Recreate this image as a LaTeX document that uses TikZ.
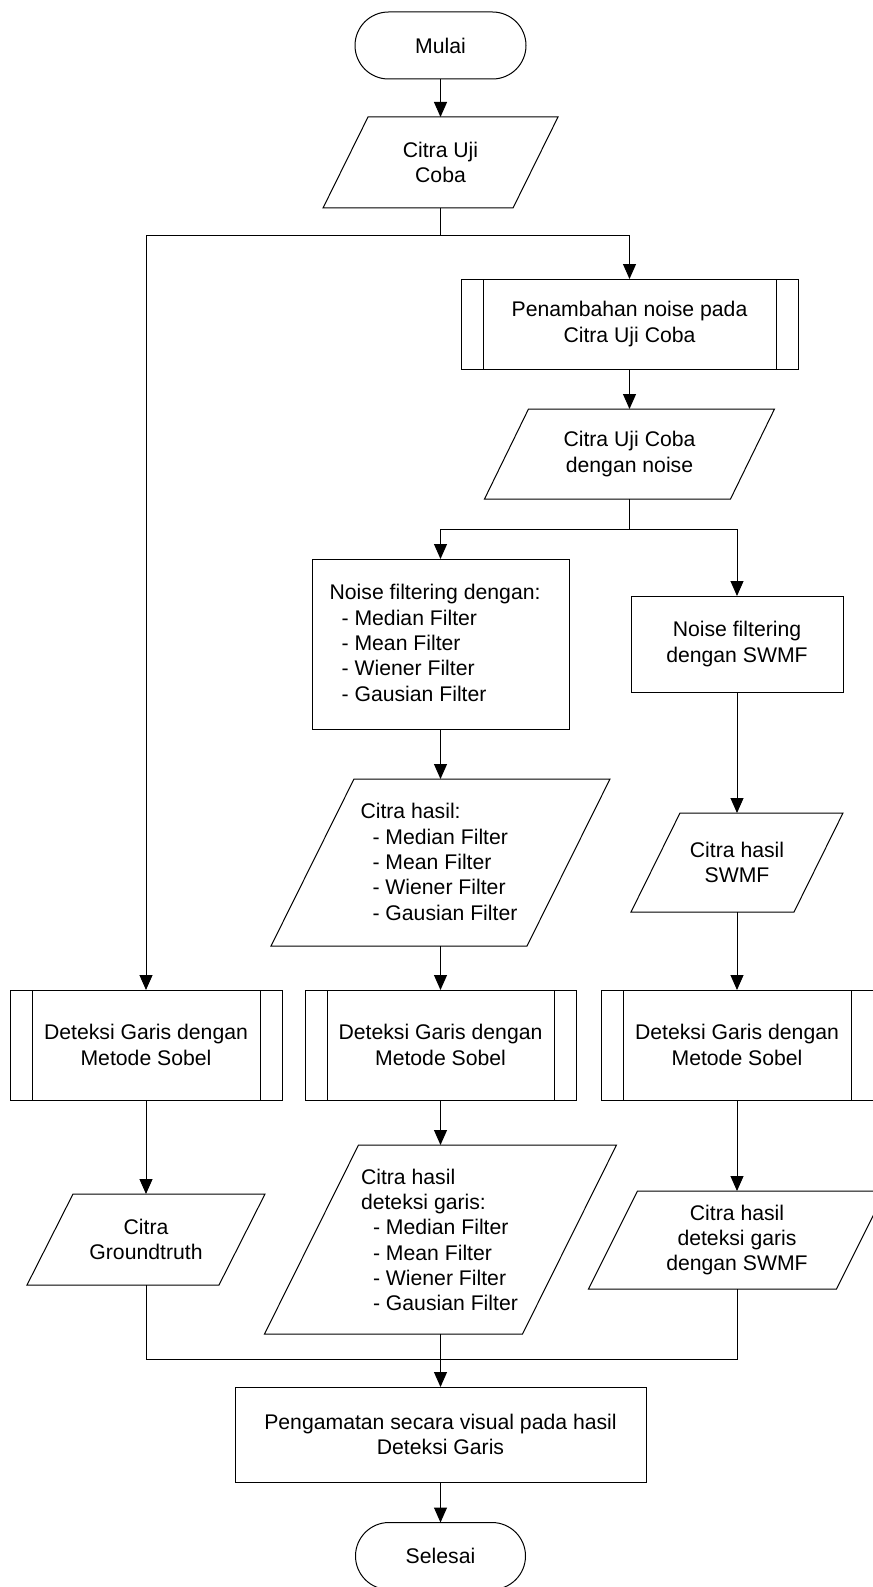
\documentclass[tikz,border=0pt]{standalone}
\usepackage{fontspec}
\setmainfont{Liberation Sans}
\usetikzlibrary{arrows.meta,shapes.misc}
\tikzset{
  base/.style={draw=none,inner sep=0pt,outer sep=0pt,align=center,
    font=\fontsize{15.9}{19}\selectfont},
  boxw/.style 2 args={base,draw,line width=0.75pt,rectangle,minimum width=#1*0.75pt,minimum height=#2*0.75pt},
  parw/.style 2 args={base,rectangle,minimum width=#1*0.75pt,minimum height=#2*0.75pt},
  term/.style 2 args={base,draw,line width=0.75pt,rounded rectangle,minimum width=#1*0.75pt,minimum height=#2*0.75pt},
  listtext/.style={inner sep=0pt,outer sep=0pt,align=left,anchor=west,
    font=\fontsize{15.9}{19}\selectfont},
  ln/.style={line width=0.75pt},
  arr/.style={line width=0.75pt,-{Triangle[length=11.25pt,width=9.75pt]}}
}
\newcommand{\paraout}[2]{%
  \draw[ln] ([xshift=#2*0.75pt]#1.north west) -- (#1.north east)
    -- ([xshift=-#2*0.75pt]#1.south east) -- (#1.south west) -- cycle;}
\newcommand{\subrlines}[1]{%
  \draw[ln] ([xshift=16.5pt]#1.north west) -- ([xshift=16.5pt]#1.south west);
  \draw[ln] ([xshift=-16.5pt]#1.north east) -- ([xshift=-16.5pt]#1.south east);}
\newcommand{\ind}{\hspace*{9pt}}
\begin{document}
\begin{tikzpicture}[x=0.75pt,y=-0.75pt]
\useasboundingbox (0,0) rectangle (873,1587);
% nodes
\node[term={171}{67}] (mulai) at (440.5,45.5) {Mulai};
\node[parw={235}{91}] (cuc) at (440.5,162.5) {Citra Uji\\Coba};
\paraout{cuc}{45}
\node[boxw={337}{90}] (pen) at (629.5,324) {Penambahan noise pada\\Citra Uji Coba};
\subrlines{pen}
\node[parw={290}{90}] (cucn) at (629.5,454) {Citra Uji Coba\\dengan noise};
\paraout{cucn}{44}
\node[boxw={257}{170}] (nf) at (440.5,644) {};
\node[listtext] (nftext) at (329.6,643) {Noise filtering dengan:\\\ind- Median Filter\\\ind- Mean Filter\\\ind- Wiener Filter\\\ind- Gausian Filter};
\node[boxw={212}{96}] (nfs) at (737,644) {Noise filtering\\dengan SWMF};
\node[parw={339}{167}] (ch) at (440.5,862.5) {};
\paraout{ch}{83}
\node[listtext] (chtext) at (360.5,862) {Citra hasil:\\\ind- Median Filter\\\ind- Mean Filter\\\ind- Wiener Filter\\\ind- Gausian Filter};
\node[parw={212}{99}] (chs) at (737,862.5) {Citra hasil\\SWMF};
\paraout{chs}{49}
\node[boxw={272}{110}] (det1) at (146,1045) {Deteksi Garis dengan\\Metode Sobel};
\subrlines{det1}
\node[boxw={271}{110}] (det2) at (440.5,1045) {Deteksi Garis dengan\\Metode Sobel};
\subrlines{det2}
\node[boxw={272}{110}] (det3) at (737,1045) {Deteksi Garis dengan\\Metode Sobel};
\subrlines{det3}
\node[parw={238}{91}] (gt) at (146,1239.5) {Citra\\Groundtruth};
\paraout{gt}{46}
\node[parw={352}{189}] (chd) at (440.5,1239.5) {};
\paraout{chd}{94}
\node[listtext] (chdtext) at (361,1240) {Citra hasil\\deteksi garis:\\\ind- Median Filter\\\ind- Mean Filter\\\ind- Wiener Filter\\\ind- Gausian Filter};
\node[parw={297}{98}] (chds) at (737,1240) {Citra hasil\\deteksi garis\\dengan SWMF};
\paraout{chds}{49}
\node[boxw={411}{95}] (peng) at (440.5,1434.5) {Pengamatan secara visual pada hasil\\Deteksi Garis};
\node[term={170}{67}] (sel) at (440.5,1556) {Selesai};
% junctions
\coordinate (j1) at (440.5,236);
\coordinate (j2) at (629.5,529);
\coordinate (j3) at (440.5,1359);
% connectors
\draw[arr] (mulai.south) -- (cuc.north);
\draw[ln] (cuc.south) -- (j1);
\draw[arr] (j1) -| (pen.north);
\draw[arr] (j1) -| (det1.north);
\draw[arr] (pen.south) -- (cucn.north);
\draw[ln] (cucn.south) -- (j2);
\draw[arr] (j2) -| (nf.north);
\draw[arr] (j2) -| (nfs.north);
\draw[arr] (nf.south) -- (ch.north);
\draw[arr] (nfs.south) -- (chs.north);
\draw[arr] (ch.south) -- (det2.north);
\draw[arr] (chs.south) -- (det3.north);
\draw[arr] (det1.south) -- (gt.north);
\draw[arr] (det2.south) -- (chd.north);
\draw[arr] (det3.south) -- (chds.north);
\draw[ln] (gt.south) |- (j3) -| (chds.south);
\draw[arr] (chd.south) -- (peng.north);
\draw[arr] (peng.south) -- (sel.north);
\end{tikzpicture}
\end{document}
